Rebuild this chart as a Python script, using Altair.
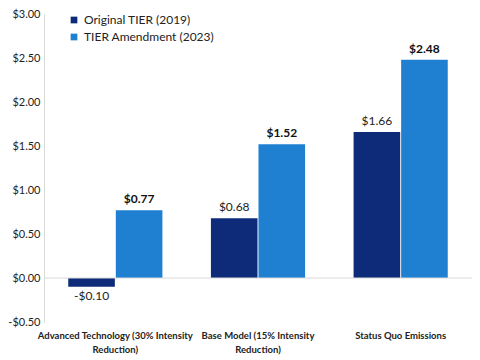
import altair as alt
import pandas as pd

categories = ["Advanced Technology (30% Intensity|Reduction)",
              "Base Model (15% Intensity|Reduction)",
              "Status Quo Emissions"]
series = ["Original TIER (2019)", "TIER Amendment (2023)"]
original = [-0.10, 0.68, 1.66]
amendment = [0.77, 1.52, 2.48]
colors = ["#0D2B78", "#1F80D2"]

rows = []
for i, c in enumerate(categories):
    rows.append({"cat": c, "series": series[0], "value": original[i]})
    rows.append({"cat": c, "series": series[1], "value": amendment[i]})
df = pd.DataFrame(rows)

FONT = "Lato"
money = "(datum.value < 0 ? '-' : '') + '$' + format(abs(datum.value), '.2f')"

base = alt.Chart(df).encode(
    x=alt.X("cat:N", sort=categories, title=None,
            scale=alt.Scale(paddingInner=0.34, paddingOuter=0.17),
            axis=alt.Axis(labelExpr="split(datum.label, '|')", labelAngle=0,
                          labelFontWeight="bold", labelFont=FONT, labelFontSize=9.5,
                          labelColor="#222222", domain=False, ticks=False,
                          labelPadding=8, labelLineHeight=14, labelLimit=250)),
    xOffset=alt.XOffset("series:N", sort=series, scale=alt.Scale(paddingInner=0.02)),
    y=alt.Y("value:Q", title=None,
            scale=alt.Scale(domain=[-0.5, 3.0], nice=False),
            axis=alt.Axis(values=[-0.5, 0, 0.5, 1.0, 1.5, 2.0, 2.5, 3.0],
                          labelExpr=money, grid=False, ticks=False,
                          domainColor="#D9D9D9", labelFont=FONT, labelFontSize=11,
                          labelColor="#222222", labelPadding=4)),
)

bars = base.mark_bar().encode(
    color=alt.Color("series:N", sort=series, scale=alt.Scale(domain=series, range=colors),
                    legend=alt.Legend(title=None, orient="none", legendX=24, legendY=0,
                                      symbolType="square", symbolSize=45,
                                      labelFont=FONT, labelFontSize=12, labelColor="#222222",
                                      rowPadding=5, symbolStrokeWidth=0))
)

zero = alt.Chart(pd.DataFrame({"z": [0]})).mark_rule(color="#D9D9D9").encode(y="z:Q")

t_pos = base.transform_filter(
    (alt.datum.series == series[0]) & (alt.datum.value >= 0)
).mark_text(baseline="bottom", dy=-4, font=FONT, fontSize=12, color="#222222").encode(
    text=alt.Text("value:Q", format="$.2f"))

t_neg = base.transform_filter(
    (alt.datum.series == series[0]) & (alt.datum.value < 0)
).transform_calculate(
    lbl="'-$' + format(abs(datum.value), '.2f')"
).mark_text(baseline="top", dy=4, font=FONT, fontSize=12, color="#222222").encode(
    text="lbl:N")

t_am = base.transform_filter(
    alt.datum.series == series[1]
).mark_text(baseline="bottom", dy=-4, font=FONT, fontSize=12, fontWeight="bold",
            color="#111111").encode(text=alt.Text("value:Q", format="$.2f"))

chart = alt.layer(bars, zero, t_pos, t_neg, t_am).properties(
    width=428, height=308,
    autosize=alt.AutoSizeParams(type="none"),
    padding={"left": 36, "top": 6, "right": 0, "bottom": 36}
).configure_view(stroke=None)

chart.save("out.html", embed_options={"renderer": "svg", "actions": False})
